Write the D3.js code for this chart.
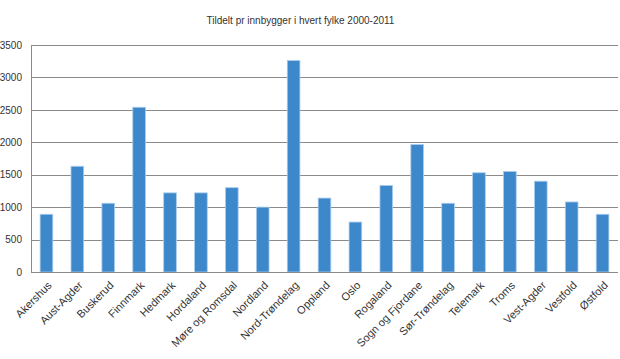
<!DOCTYPE html>
<html><head><meta charset="utf-8">
<script src="https://cdn.jsdelivr.net/npm/d3@7"></script>
<style>body{margin:0;background:#fff}svg{display:block}text{font-family:"Liberation Sans",Arial,sans-serif;fill:#333}</style>
</head><body>
<script>
const categories = ["Akershus","Aust-Agder","Buskerud","Finnmark","Hedmark","Hordaland","Møre og Romsdal","Nordland","Nord-Trøndelag","Oppland","Oslo","Rogaland","Sogn og Fjordane","Sør-Trøndelag","Telemark","Troms","Vest-Agder","Vestfold","Østfold"];
const values = [890,1630,1060,2540,1220,1220,1300,1000,3260,1140,770,1335,1965,1060,1530,1550,1400,1080,890];
const yTicks = [0,500,1000,1500,2000,2500,3000,3500];
const title = "Tildelt pr innbygger i hvert fylke 2000-2011";

const W=620,H=359;
const m={left:31,right:2,top:45,bottom:87};
const svg=d3.select("body").append("svg").attr("width",W).attr("height",H);
const x=d3.scaleBand().domain(categories).range([m.left,W-m.right]).paddingInner(0.59).paddingOuter(0.295);
const y=d3.scaleLinear().domain([0,3500]).range([H-m.bottom,m.top]);

svg.append("text").attr("x",300.5).attr("y",24).attr("text-anchor","middle").attr("font-size",10).text(title);

const g=svg.append("g");
g.selectAll("line.grid").data(yTicks.filter(d=>d>0)).join("line")
 .attr("x1",m.left).attr("x2",W-m.right).attr("y1",d=>Math.round(y(d))+0.5).attr("y2",d=>Math.round(y(d))+0.5)
 .attr("stroke","#8a8a8a").attr("stroke-width",1);

g.selectAll("rect").data(values).join("rect")
 .attr("x",(d,i)=>x(categories[i])).attr("width",x.bandwidth())
 .attr("y",d=>y(d)).attr("height",d=>y(0)-y(d))
 .attr("fill","#3d88cb").attr("stroke","#a9cdee").attr("stroke-width",0.8);

svg.append("line").attr("x1",m.left+0.5).attr("x2",m.left+0.5).attr("y1",m.top).attr("y2",y(0)).attr("stroke","#8a8a8a");
svg.append("line").attr("x1",m.left).attr("x2",W-m.right).attr("y1",Math.round(y(0))+0.5).attr("y2",Math.round(y(0))+0.5).attr("stroke","#8a8a8a");

const yAxis=d3.axisLeft(y).tickValues(yTicks).tickFormat(d3.format("d")).tickSize(0).tickPadding(9);
const ya=svg.append("g").attr("transform",`translate(${m.left},0)`).call(yAxis);
ya.select(".domain").remove();
ya.selectAll("text").attr("font-size",10).attr("font-family","Liberation Sans, Arial, sans-serif").attr("fill","#333");

const xAxis=d3.axisBottom(x).tickSize(0).tickPadding(0);
const xa=svg.append("g").attr("transform",`translate(0,${y(0)})`).call(xAxis);
xa.select(".domain").remove();
xa.selectAll("text").attr("font-size",11).attr("font-family","Liberation Sans, Arial, sans-serif").attr("fill","#333")
 .attr("text-anchor","end").attr("dy",0).attr("y",0)
 .attr("transform","translate(6,14) rotate(-45)");
</script>
</body></html>
